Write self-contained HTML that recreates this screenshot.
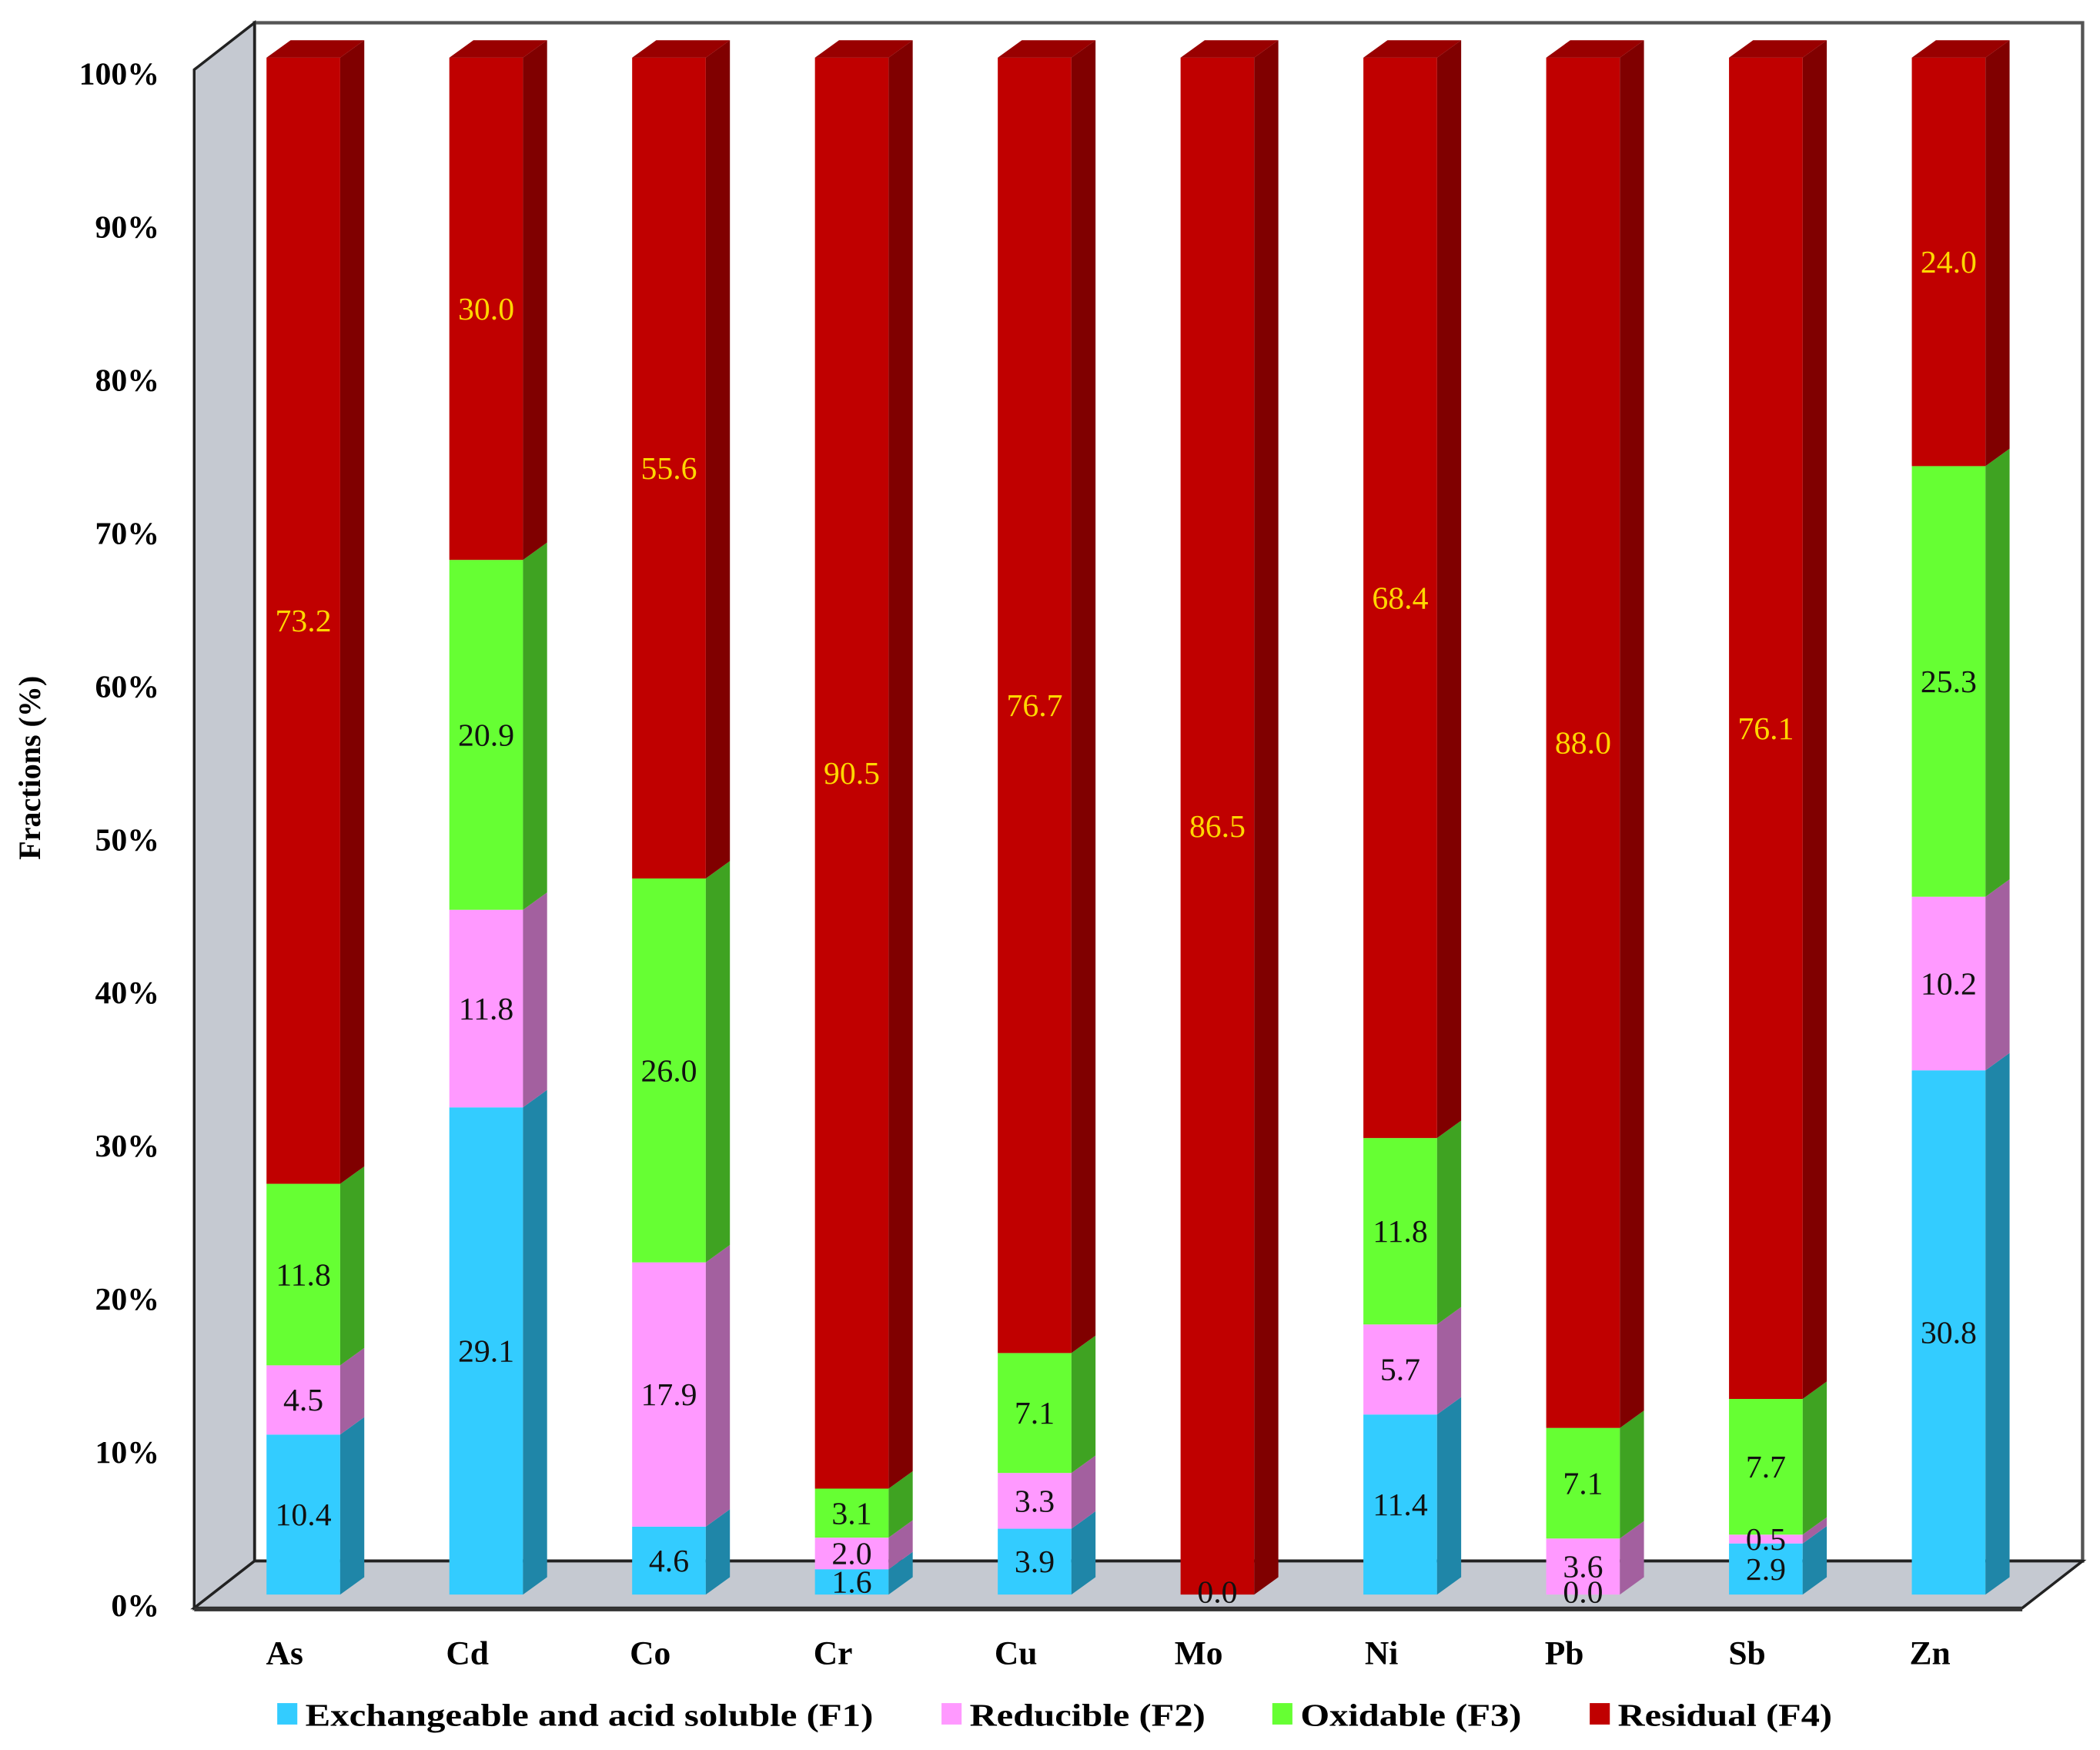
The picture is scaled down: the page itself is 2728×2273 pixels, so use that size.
<!DOCTYPE html>
<html><head><meta charset="utf-8"><style>html,body{margin:0;padding:0;background:#fff}svg{display:block}</style></head>
<body>
<svg id="chart" width="2728" height="2273" viewBox="0 0 1568 1306" preserveAspectRatio="none" xmlns="http://www.w3.org/2000/svg" font-family="'Liberation Serif', serif">
<g>
<polygon points="190,17 1555,17 1555,1165 190,1165" fill="#fff" stroke="#555" stroke-width="2.5"/>
<polygon points="145,52 190,17 190,1165 145,1200" fill="#c5c9d1" stroke="#222" stroke-width="2"/>
<polygon points="145,1200 190,1165 1555,1165 1510,1200" fill="#c5c9d1" stroke="#222" stroke-width="2"/>
<line x1="145" y1="1201" x2="1510" y2="1201" stroke="#333" stroke-width="3"/>
</g>
<g id="bars"></g>
<g id="labels"></g>
<text transform="translate(30,573) rotate(-90)" text-anchor="middle" font-weight="bold" font-size="23">Fractions (%)</text>
<g id="legend"></g>
</svg>
<script>
const categories = ["As","Cd","Co","Cr","Cu","Mo","Ni","Pb","Sb","Zn"];
const f1 = [10.4,29.1,4.6,1.6,3.9,0.0,11.4,0.0,2.9,30.8];
const f2 = [4.5,11.8,17.9,2.0,3.3,0.0,5.7,3.6,0.5,10.2];
const f3 = [11.8,20.9,26.0,3.1,7.1,0.0,11.8,7.1,7.7,25.3];
const f4 = [73.2,30.0,55.6,90.5,76.7,86.5,68.4,88.0,76.1,24.0];
const yTicks = [0,10,20,30,40,50,60,70,80,90,100];
const seriesNames = ["Exchangeable and acid soluble (F1)","Reducible (F2)","Oxidable (F3)","Residual (F4)"];

const NS="http://www.w3.org/2000/svg";
const front=["#33ccff","#ff99ff","#66ff33","#c00000"];
const side=["#1f86a8","#a3609f","#3fa322","#800000"];
const Y0=1190,Y100=43;
const y=v=>Y0+(Y100-Y0)*v/100;
const yLab=v=>1198-1143*v/100;
const x=i=>199+i*136.5;
const W=55,DX=18,DY=13;
function mk(t,a,p){const e=document.createElementNS(NS,t);for(const k in a)e.setAttribute(k,a[k]);p.appendChild(e);return e;}
const bars=document.getElementById('bars'),labels=document.getElementById('labels'),svg=document.getElementById('chart');
const series=[f1,f2,f3,f4];
yTicks.forEach(t=>{
  const e=mk('text',{x:119,y:yLab(t)+8,'text-anchor':'end','font-weight':'bold','font-size':24},svg);
  
  
  e.textContent=t+'%';
});
categories.forEach((c,i)=>{
  const tot=f1[i]+f2[i]+f3[i]+f4[i];
  let cum=0;const x0=x(i);
  series.forEach((s,k)=>{
    const v=s[i]/tot*100;const yb=y(cum),yt=y(cum+v);cum+=v;
    if(v>0){
      const r=mk('rect',{x:x0,y:yt,width:W,height:yb-yt,fill:front[k]},bars);
      
      
      const p=mk('polygon',{points:`${x0+W},${yt} ${x0+W+DX},${yt-DY} ${x0+W+DX},${yb-DY} ${x0+W},${yb}`,fill:side[k]},bars);
      
      
      if(k===3){
        const tp=mk('polygon',{points:`${x0},${yt} ${x0+DX},${yt-DY} ${x0+W+DX},${yt-DY} ${x0+W},${yt}`,fill:"#990000"},bars);
        
        
      }
    }
    const show = s[i]>0 || (k===0 && c==="Mo") || (k===0 && c==="Pb");
    if(show){
      const ly = v>0 ? (yb+yt)/2+8 : yb+6;
      const tx=mk('text',{x:x0+W/2,y:ly,'text-anchor':'middle','font-size':24,fill:k===3?'#ffd700':'#111'},labels);
      
      
      tx.textContent=s[i].toFixed(1);
    }
  });
  const cl=mk('text',{x:x0+W/2-14,y:1242,'text-anchor':'middle','font-weight':'bold','font-size':25},svg);
  
  
  cl.textContent=c;
});
const lg=document.getElementById('legend');
const lx=[207,703,950,1187],lw=[424,176,165,160];
seriesNames.forEach((n,k)=>{
  const r=mk('rect',{x:lx[k],y:1271,width:15,height:16,fill:front[k]},lg);
  
  
  const t=mk('text',{x:lx[k]+21,y:1288,'font-weight':'bold','font-size':24,textLength:lw[k],lengthAdjust:'spacingAndGlyphs'},lg);
  
  
  t.textContent=n;
});
</script>
</body></html>
